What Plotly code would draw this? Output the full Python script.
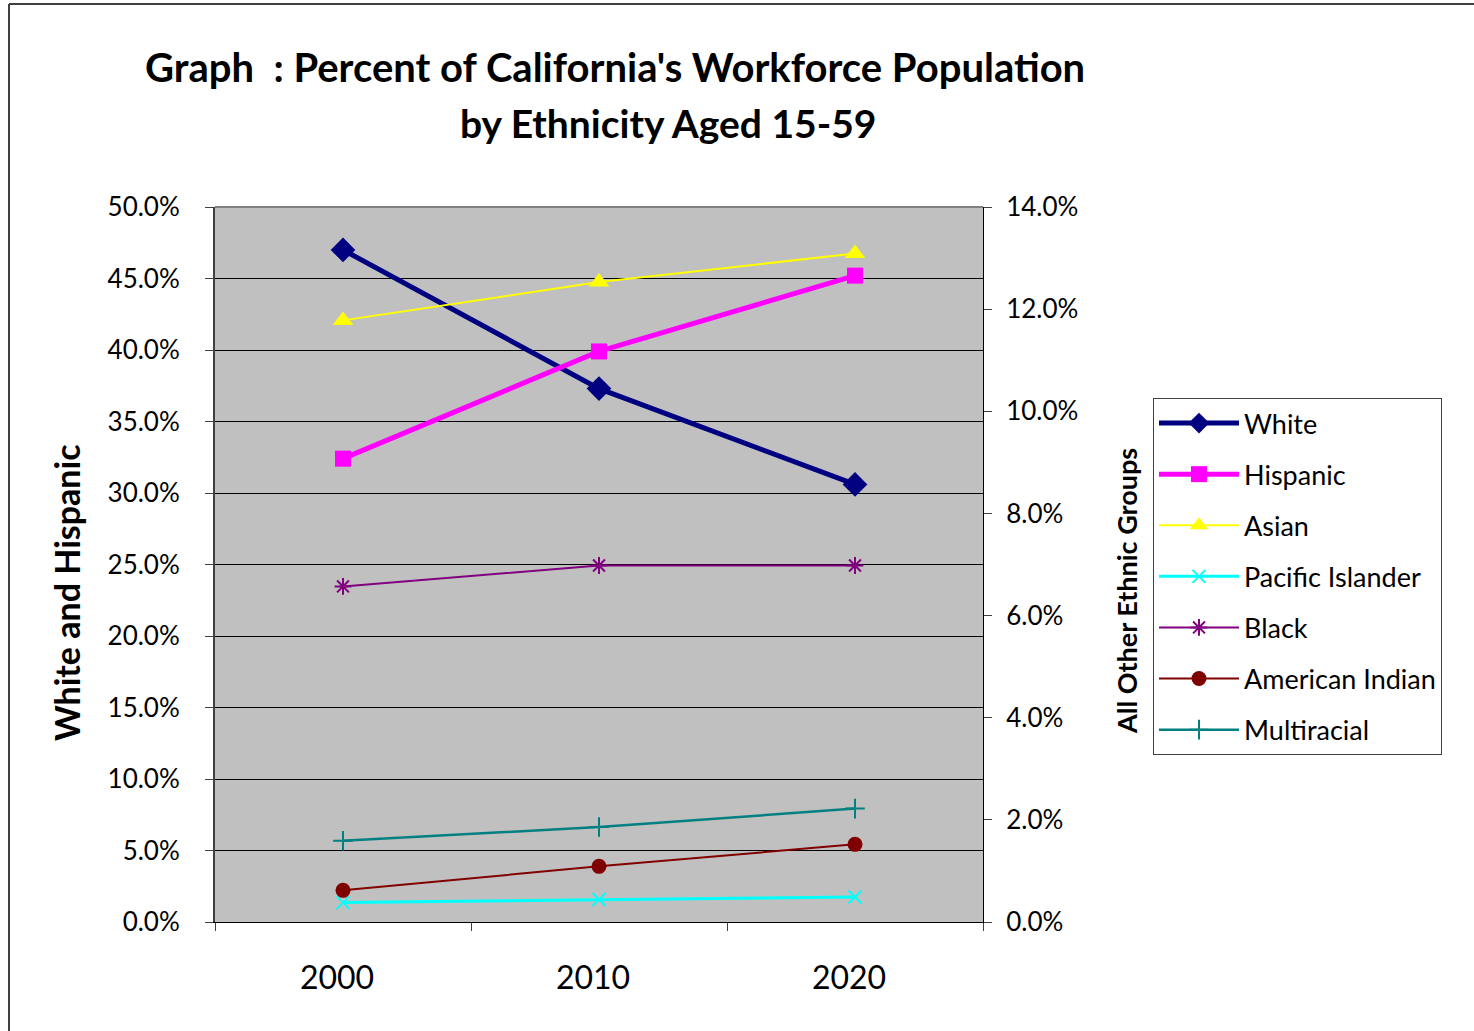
import plotly.graph_objects as go

years = ["2000", "2010", "2020"]
white = [0.470, 0.373, 0.306]
hispanic = [0.324, 0.399, 0.452]
asian = [0.1178, 0.1253, 0.1309]
pacific_islander = [0.0038, 0.0044, 0.0049]
black = [0.0657, 0.0698, 0.0698]
american_indian = [0.0062, 0.0109, 0.0152]
multiracial = [0.0159, 0.0186, 0.0222]

left_ticks = [i * 0.05 for i in range(11)]
right_ticks = [i * 0.02 for i in range(8)]

FONT = "Lato, 'Open Sans', sans-serif"

fig = go.Figure()

series = [
    ("White", white, "y", "#000080", 5, "diamond", 19),
    ("Hispanic", hispanic, "y", "#FF00FF", 5, "square", 16),
    ("Asian", asian, "y2", "#FFFF00", 2, "triangle-up", 18),
    ("Pacific Islander", pacific_islander, "y2", "#00FFFF", 3, "x-thin", 13),
    ("Black", black, "y2", "#800080", 2, "asterisk", 14),
    ("American Indian", american_indian, "y2", "#800000", 2, "circle", 15),
    ("Multiracial", multiracial, "y2", "#008080", 2.5, "cross-thin", 14),
]

for name, vals, yax, color, lw, sym, ms in series:
    open_sym = sym in ("x-thin", "asterisk", "cross-thin")
    fig.add_trace(go.Scatter(
        x=years, y=vals, name=name, yaxis=yax, mode="lines+markers",
        line=dict(color=color, width=lw),
        marker=dict(symbol=sym, size=ms, color=color,
                    line=dict(color=color, width=2 if open_sym else 0)),
        legendgroup=name,
    ))

W, H = 1474, 1031
L, R, T, B = 215, 983, 207, 922

def px(x):
    return (x - L) / (R - L)

def py(y):
    return (B - y) / (B - T)

fig.update_layout(
    width=W, height=H,
    margin=dict(l=L, r=W - R, t=T, b=H - B, pad=0),
    paper_bgcolor="white",
    plot_bgcolor="#C0C0C0",
    font=dict(family=FONT, color="black", size=26),
    showlegend=True,
    legend=dict(
        x=px(1153), y=py(398), xanchor="left", yanchor="top",
        bordercolor="#404040", borderwidth=1, bgcolor="white",
        font=dict(size=27, family=FONT),
        itemwidth=80, tracegroupgap=13,
        traceorder="grouped",
        entrywidth=300,
    ),
    xaxis=dict(
        type="category", range=[-0.5, 2.5],
        tickson="boundaries", ticks="outside", ticklen=8, tickcolor="#404040", tickwidth=1,
        showline=True, linecolor="black", linewidth=1,
        showgrid=False, zeroline=False,
        tickfont=dict(size=32, family=FONT),
        ticklabelstandoff=28, ticklabelshift=-6,
    ),
    yaxis=dict(
        range=[0, 0.5], tickvals=left_ticks, tickformat=".1%",
        ticks="outside", ticklen=8, tickcolor="#404040",
        showline=True, linecolor="#404040", linewidth=2,
        showgrid=True, gridcolor="black", gridwidth=1, zeroline=False,
        tickfont=dict(size=26, family=FONT),
        ticklabelstandoff=20,
    ),
    yaxis2=dict(
        range=[0, 0.14], tickvals=right_ticks, tickformat=".1%",
        overlaying="y", side="right",
        ticks="outside", ticklen=8, tickcolor="#404040",
        showline=True, linecolor="black", linewidth=1,
        showgrid=False, zeroline=False,
        tickfont=dict(size=26, family=FONT),
        ticklabelstandoff=9,
    ),
    yaxis3=dict(
        range=[0, 0.14], tickvals=right_ticks,
        overlaying="y", side="right",
        ticks="inside", ticklen=8, tickcolor="#404040",
        showticklabels=False, showline=False,
        showgrid=False, zeroline=False,
    ),
)

# title
fig.add_annotation(
    text="<b>Graph  : Percent of California's Workforce Population</b>",
    xref="paper", yref="paper", x=px(615), y=py(67),
    xanchor="center", yanchor="middle", showarrow=False,
    font=dict(size=40, family=FONT),
)
fig.add_annotation(
    text="<b>by Ethnicity Aged 15-59</b>",
    xref="paper", yref="paper", x=px(668), y=py(123),
    xanchor="center", yanchor="middle", showarrow=False,
    font=dict(size=39, family=FONT),
)
# axis titles
fig.add_annotation(
    text="<b>White and Hispanic</b>",
    xref="paper", yref="paper", x=px(66), y=py(593),
    xanchor="center", yanchor="middle", showarrow=False, textangle=-90,
    font=dict(size=34, family=FONT),
)
fig.add_annotation(
    text="<b>All Other Ethnic Groups</b>",
    xref="paper", yref="paper", x=px(1126), y=py(591),
    xanchor="center", yanchor="middle", showarrow=False, textangle=-90,
    font=dict(size=27, family=FONT),
)

# top border of plot area
fig.add_shape(type="line", xref="paper", yref="paper", x0=0, x1=1, y0=1, y1=1,
              line=dict(color="#808080", width=2))
# outer frame
fig.add_shape(type="line", xref="paper", yref="paper",
              x0=px(9), x1=px(1480), y0=py(4), y1=py(4),
              line=dict(color="#404040", width=2))
fig.add_shape(type="line", xref="paper", yref="paper",
              x0=px(9), x1=px(9), y0=py(4), y1=py(1040),
              line=dict(color="#404040", width=2))

fig.write_html(
    "out.html",
    config={"displayModeBar": False},
    post_script="document.body.style.margin='0';document.body.style.overflow='hidden';",
)
